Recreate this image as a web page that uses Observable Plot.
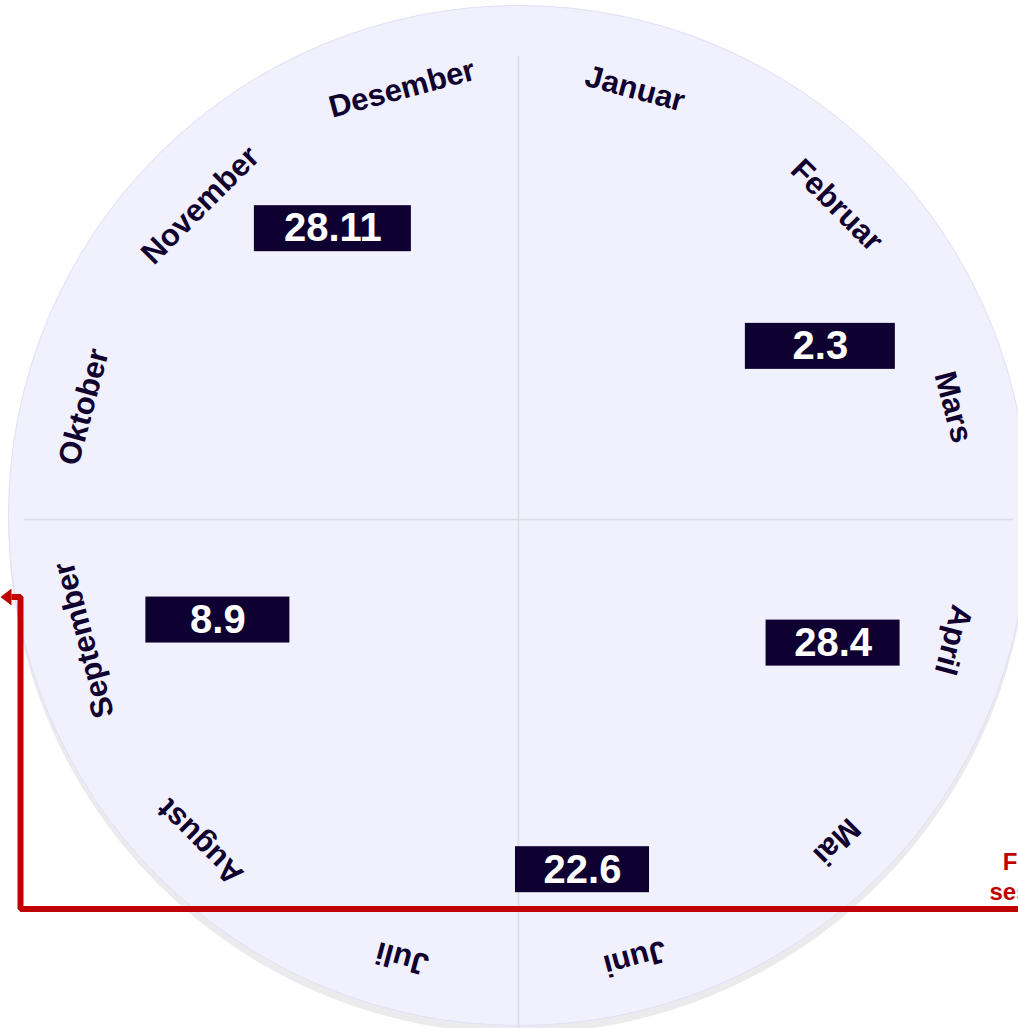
<!DOCTYPE html>
<html><head><meta charset="utf-8">
<script src="https://cdn.jsdelivr.net/npm/d3@7"></script>
<script src="https://cdn.jsdelivr.net/npm/@observablehq/plot@0.6"></script>
<style>
html,body{margin:0;padding:0;background:#fff;overflow:hidden;}
#chart svg{display:block;}
</style></head><body><div id="chart"></div>
<script>
// ---- data ----
const months = ["Januar","Februar","Mars","April","Mai","Juni","Juli","August","September","Oktober","November","Desember"];
const eventLabels = ["28.11","2.3","28.4","22.6","8.9"];
const eventDay = [332, 61, 113, 172, 255];      // position around the year (day of year)
const eventDist = [345, 348, 338, 356, 317];    // distance from the centre
const boxWidth = [157, 150, 134, 134, 144];
const annotationText = "Ferie\nsesong";
const annotationPos = [513, -355.5];
const annotationPath = [[522, -389.5], [-498, -389.5], [-498, -77.5], [-507, -77.5]];

// ---- layout constants ----
const R = 510, labelR = 450, boxH = 46;
const rad = a => a * Math.PI / 180;
const ink = "#10002e", red = "#c00000";

const monthData = months.map((m, i) => {
  const a = (i + 0.5) * 30;
  return {m, a, x: labelR * Math.sin(rad(a)), y: labelR * Math.cos(rad(a))};
});
const events = eventLabels.map((t, i) => {
  const a = eventDay[i] / 365 * 360;
  return {t, w: boxWidth[i], x: eventDist[i] * Math.sin(rad(a)), y: eventDist[i] * Math.cos(rad(a))};
});
const arrowHead = {draw(ctx) { ctx.moveTo(0, -8.5); ctx.lineTo(0, 8.5); ctx.lineTo(-11, 0); ctx.closePath(); }};

const chart = Plot.plot({
  width: 1018, height: 1028, margin: 0,
  x: {domain: [-518, 500], axis: null},
  y: {domain: [-509, 519], axis: null},
  style: {fontFamily: "'Liberation Sans', Arial, sans-serif", background: "white", overflow: "hidden"},
  marks: [
    Plot.dot([{x: 0, y: 0}], {x: "x", y: "y", r: R, fill: "#ebebee", stroke: "none", dy: 4}),
    Plot.dot([{x: 0, y: 0}], {x: "x", y: "y", r: R, fill: "#f1f0fd", stroke: "#e2def8", strokeWidth: 1, dy: -4}),
    Plot.ruleX([0], {y1: 463, y2: -560, stroke: "#dcdce4", strokeWidth: 1.5}),
    Plot.ruleY([0], {x1: -494, x2: 495, stroke: "#dcdce4", strokeWidth: 1.5}),
    Plot.text(monthData, {x: "x", y: "y", text: "m", rotate: "a", dy: 4, fill: ink, fontSize: 31, fontWeight: "bold"}),
    Plot.rect(events, {x1: d => d.x - d.w / 2, x2: d => d.x + d.w / 2, y1: d => d.y - boxH / 2, y2: d => d.y + boxH / 2, fill: "#0f0032"}),
    Plot.text(events, {x: "x", y: "y", text: "t", fill: "white", fontSize: 40, fontWeight: "bold"}),
    Plot.line(annotationPath, {x: d => d[0], y: d => d[1], stroke: red, strokeWidth: 6, strokeLinejoin: "miter", strokeLinecap: "butt"}),
    Plot.dot([annotationPath[annotationPath.length - 1]], {x: d => d[0], y: d => d[1], symbol: arrowHead, fill: red, stroke: "none", r: 5}),
    Plot.text([annotationText], {x: () => annotationPos[0], y: () => annotationPos[1], text: d => d, fill: red, fontSize: 24, fontWeight: "bold", lineHeight: 1.25, textAnchor: "middle"})
  ]
});
document.getElementById("chart").appendChild(chart);
</script>
</body></html>
